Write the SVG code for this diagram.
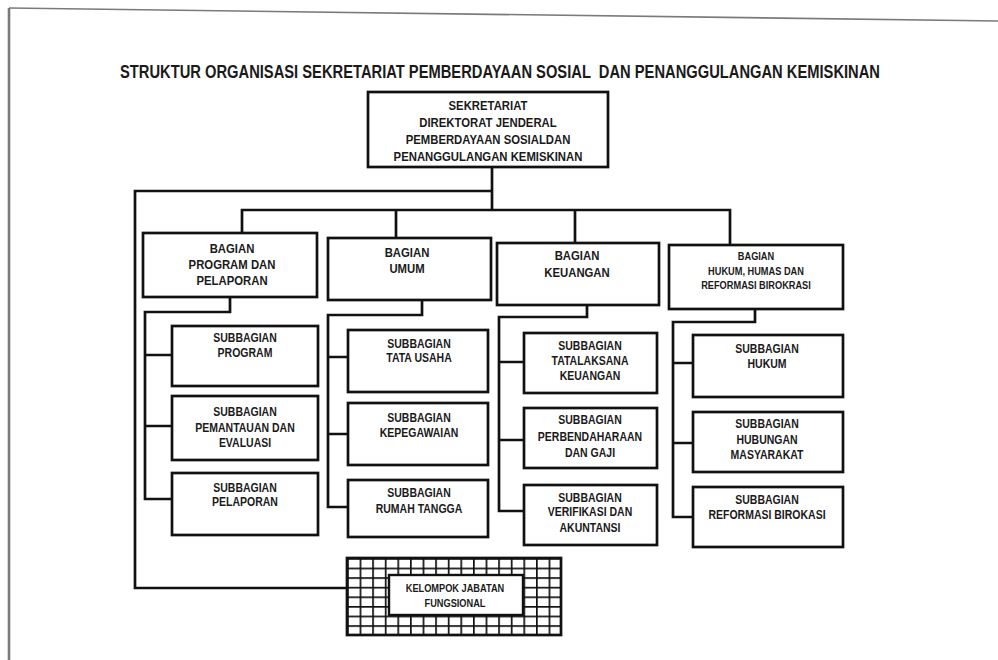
<svg xmlns="http://www.w3.org/2000/svg" width="998" height="660" viewBox="0 0 998 660">
<defs>
<style>
.box{fill:#fff;stroke:#111;stroke-width:2.7}
.ln{fill:none;stroke:#111;stroke-width:2.7;stroke-linejoin:miter}
.t{font-family:"Liberation Sans",Arial,sans-serif;font-weight:700;text-anchor:middle;fill:#1a1a1a}
.a{font-size:13.5px}
.b{font-size:12.5px}
.c{font-size:11px}
.scan{stroke:#7a7a7a;fill:none}
</style>
<pattern id="grid" patternUnits="userSpaceOnUse" x="347" y="558" width="12.6" height="9.6">
<rect width="12.6" height="9.6" fill="#fff"/>
<path d="M0,0H12.6M0,0V9.6" stroke="#111" stroke-width="3.4"/>
</pattern>
</defs>
<rect width="998" height="660" fill="#fff"/>
<g id="scan-edges">
<path class="scan" d="M9,8 L998,21" stroke-width="1.6"/>
<path class="scan" d="M9,8 V660" stroke-width="2.6"/>
</g>
<text class="t" transform="translate(500 0) scale(0.775 1)" y="78" font-size="19" xml:space="preserve">STRUKTUR ORGANISASI SEKRETARIAT PEMBERDAYAAN SOSIAL  DAN PENANGGULANGAN KEMISKINAN</text>

<g id="connectors">
<path class="ln" d="M492,167 V210"/>
<path class="ln" d="M492,191 H135 V588 H347"/>
<path class="ln" d="M242,233 V210 H730 V245"/>
<path class="ln" d="M396,210 V238"/>
<path class="ln" d="M575,210 V243"/>
<path class="ln" d="M230,297 V312 H145 V499 H172 M145,355 H172 M145,426 H172"/>
<path class="ln" d="M422,300 V315 H328 V507 H348 M328,357 H348 M328,434 H348"/>
<path class="ln" d="M587,305 V317 H499 V511 H524 M499,362 H524 M499,440 H524"/>
<path class="ln" d="M755,309 V322 H673 V517 H693 M673,363 H693 M673,443 H693"/>
</g>

<g id="sekretariat">
<rect class="box" x="368" y="92" width="240" height="75"/>
<text class="t a" transform="translate(488 0) scale(0.84 1)" y="110">SEKRETARIAT</text>
<text class="t a" transform="translate(488 0) scale(0.84 1)" y="127">DIREKTORAT JENDERAL</text>
<text class="t a" transform="translate(488 0) scale(0.84 1)" y="144">PEMBERDAYAAN SOSIALDAN</text>
<text class="t a" transform="translate(488 0) scale(0.84 1)" y="161">PENANGGULANGAN KEMISKINAN</text>
</g>

<g id="bagian-program">
<rect class="box" x="143" y="233" width="174" height="64"/>
<text class="t a" transform="translate(232 0) scale(0.84 1)" y="253">BAGIAN</text>
<text class="t a" transform="translate(232 0) scale(0.84 1)" y="269">PROGRAM DAN</text>
<text class="t a" transform="translate(232 0) scale(0.84 1)" y="285">PELAPORAN</text>
</g>
<g id="bagian-umum">
<rect class="box" x="328" y="238" width="163" height="62"/>
<text class="t a" transform="translate(407 0) scale(0.84 1)" y="257">BAGIAN</text>
<text class="t a" transform="translate(407 0) scale(0.84 1)" y="273">UMUM</text>
</g>
<g id="bagian-keuangan">
<rect class="box" x="497" y="243" width="162" height="62"/>
<text class="t a" transform="translate(577 0) scale(0.84 1)" y="260">BAGIAN</text>
<text class="t a" transform="translate(577 0) scale(0.84 1)" y="277">KEUANGAN</text>
</g>
<g id="bagian-hukum">
<rect class="box" x="669" y="245" width="174" height="64"/>
<text class="t c" transform="translate(756 0) scale(0.84 1)" y="260">BAGIAN</text>
<text class="t c" transform="translate(756 0) scale(0.84 1)" y="275">HUKUM, HUMAS DAN</text>
<text class="t c" transform="translate(756 0) scale(0.84 1)" y="289">REFORMASI BIROKRASI</text>
</g>

<g id="sub-program">
<rect class="box" x="172" y="326" width="146" height="60"/>
<text class="t b" transform="translate(245 0) scale(0.84 1)" y="342">SUBBAGIAN</text>
<text class="t b" transform="translate(245 0) scale(0.84 1)" y="357">PROGRAM</text>
</g>
<g id="sub-pemantauan">
<rect class="box" x="172" y="396" width="146" height="64"/>
<text class="t b" transform="translate(245 0) scale(0.84 1)" y="416">SUBBAGIAN</text>
<text class="t b" transform="translate(245 0) scale(0.84 1)" y="432">PEMANTAUAN DAN</text>
<text class="t b" transform="translate(245 0) scale(0.84 1)" y="447">EVALUASI</text>
</g>
<g id="sub-pelaporan">
<rect class="box" x="172" y="473" width="146" height="62"/>
<text class="t b" transform="translate(245 0) scale(0.84 1)" y="492">SUBBAGIAN</text>
<text class="t b" transform="translate(245 0) scale(0.84 1)" y="506">PELAPORAN</text>
</g>

<g id="sub-tata-usaha">
<rect class="box" x="348" y="330" width="140" height="62"/>
<text class="t b" transform="translate(419 0) scale(0.84 1)" y="348">SUBBAGIAN</text>
<text class="t b" transform="translate(419 0) scale(0.84 1)" y="362">TATA USAHA</text>
</g>
<g id="sub-kepegawaian">
<rect class="box" x="348" y="403" width="140" height="62"/>
<text class="t b" transform="translate(419 0) scale(0.84 1)" y="422">SUBBAGIAN</text>
<text class="t b" transform="translate(419 0) scale(0.84 1)" y="437">KEPEGAWAIAN</text>
</g>
<g id="sub-rumah-tangga">
<rect class="box" x="348" y="480" width="140" height="57"/>
<text class="t b" transform="translate(419 0) scale(0.84 1)" y="497">SUBBAGIAN</text>
<text class="t b" transform="translate(419 0) scale(0.84 1)" y="513">RUMAH TANGGA</text>
</g>

<g id="sub-tatalaksana">
<rect class="box" x="524" y="333" width="133" height="60"/>
<text class="t b" transform="translate(590 0) scale(0.84 1)" y="350">SUBBAGIAN</text>
<text class="t b" transform="translate(590 0) scale(0.84 1)" y="365">TATALAKSANA</text>
<text class="t b" transform="translate(590 0) scale(0.84 1)" y="380">KEUANGAN</text>
</g>
<g id="sub-perbendaharaan">
<rect class="box" x="524" y="408" width="133" height="60"/>
<text class="t b" transform="translate(590 0) scale(0.84 1)" y="424">SUBBAGIAN</text>
<text class="t b" transform="translate(590 0) scale(0.84 1)" y="441">PERBENDAHARAAN</text>
<text class="t b" transform="translate(590 0) scale(0.84 1)" y="457">DAN GAJI</text>
</g>
<g id="sub-verifikasi">
<rect class="box" x="524" y="485" width="133" height="60"/>
<text class="t b" transform="translate(590 0) scale(0.84 1)" y="502">SUBBAGIAN</text>
<text class="t b" transform="translate(590 0) scale(0.84 1)" y="516">VERIFIKASI DAN</text>
<text class="t b" transform="translate(590 0) scale(0.84 1)" y="532">AKUNTANSI</text>
</g>

<g id="sub-hukum">
<rect class="box" x="693" y="335" width="150" height="62"/>
<text class="t b" transform="translate(767 0) scale(0.84 1)" y="353">SUBBAGIAN</text>
<text class="t b" transform="translate(767 0) scale(0.84 1)" y="368">HUKUM</text>
</g>
<g id="sub-humas">
<rect class="box" x="693" y="412" width="150" height="60"/>
<text class="t b" transform="translate(767 0) scale(0.84 1)" y="428">SUBBAGIAN</text>
<text class="t b" transform="translate(767 0) scale(0.84 1)" y="444">HUBUNGAN</text>
<text class="t b" transform="translate(767 0) scale(0.84 1)" y="459">MASYARAKAT</text>
</g>
<g id="sub-reformasi">
<rect class="box" x="693" y="487" width="150" height="60"/>
<text class="t b" transform="translate(767 0) scale(0.84 1)" y="504">SUBBAGIAN</text>
<text class="t b" transform="translate(767 0) scale(0.84 1)" y="519">REFORMASI BIROKASI</text>
</g>

<g id="kelompok-jabatan-fungsional">
<rect x="347" y="558" width="214" height="77" fill="url(#grid)" stroke="#111" stroke-width="2.7"/>
<rect x="389" y="575" width="134" height="40" fill="#fff" stroke="#111" stroke-width="2.4"/>
<text class="t c" transform="translate(455 0) scale(0.84 1)" y="592">KELOMPOK JABATAN</text>
<text class="t c" transform="translate(455 0) scale(0.84 1)" y="607">FUNGSIONAL</text>
</g>
</svg>
